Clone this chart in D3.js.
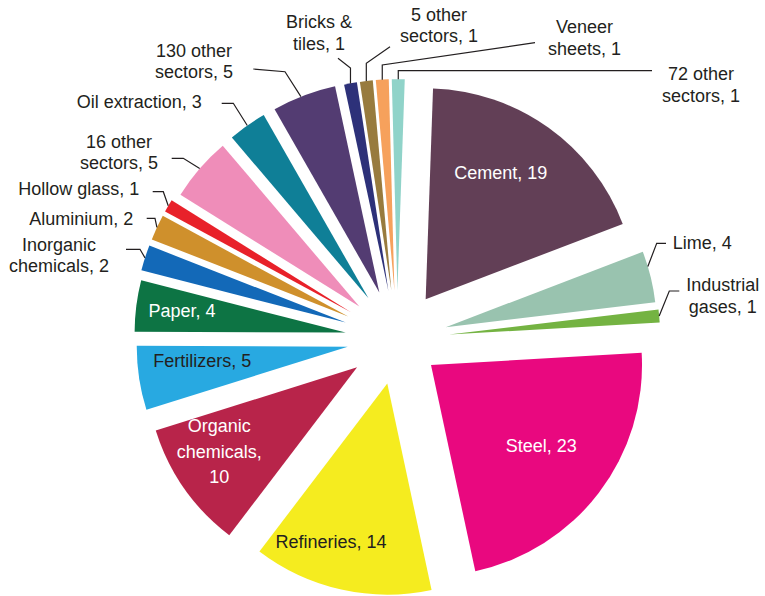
<!DOCTYPE html>
<html>
<head>
<meta charset="utf-8">
<script src="https://cdn.jsdelivr.net/npm/d3@7"></script>
<style>
  body { margin: 0; background: #fff; }
  svg { display: block; }
  text { font-family: "Liberation Sans", Arial, Helvetica, sans-serif; font-size: 18px; }
</style>
</head>
<body>
<svg id="chart" width="765" height="596"></svg>
<script>
// Share of industrial emissions by sector (%)
const sectors = [
  "Cement", "Lime", "Industrial gases", "Steel", "Refineries",
  "Organic chemicals", "Fertilizers", "Paper", "Inorganic chemicals",
  "Aluminium", "Hollow glass", "16 other sectors", "Oil extraction",
  "130 other sectors", "Bricks & tiles", "5 other sectors",
  "Veneer sheets", "72 other sectors"
];
const shares = [19, 4, 1, 23, 14, 10, 5, 4, 2, 2, 1, 5, 3, 5, 1, 1, 1, 1];

// Slice fills, in sector order
const colors = [
  "#623f56", "#99c3af", "#74b342", "#e9087f", "#f5ec1f",
  "#b8244a", "#28a9e1", "#0d7444", "#1369b8",
  "#cf902c", "#e8212a", "#ef8db9", "#0f7f97",
  "#533c72", "#2d3179", "#987b3e",
  "#f6a15c", "#90d3c9"
];

// Pie geometry
const cx = 397.2, cy = 339.2, radius = 211;
const rotation = 2 * Math.PI / 180;   // first slice starts just past 12 o'clock
// How far each slice is pulled out from the centre
const explode = [49, 50, 52, 42.5, 45.5, 49, 50, 52, 54, 54, 54, 50, 50, 50, 49, 49, 49, 49];

// Label placement: anchor point (first baseline), alignment, word breaks,
// text colour, line height, and for outside labels the leader path.
// "t" is where along the slice's outer arc the leader starts; a point written
// as [null, y] keeps the x of the previous point (vertical segment).
const dark = "#231f20", light = "#ffffff";
const labelLayout = [
  { x: 500.8, y: 179,   anchor: "middle", breaks: [],     fill: light },
  { x: 672.7, y: 249.3, anchor: "start",  breaks: [],     fill: dark, t: 0.3, leader: [[656.7, 243.3], [666, 243.3]] },
  { x: 722.7, y: 290.7, anchor: "middle", breaks: [1],    fill: dark, lh: 22, t: 0.5, leader: [[669.3, 291], [679.3, 291]] },
  { x: 541.2, y: 452.3, anchor: "middle", breaks: [],     fill: light },
  { x: 331,   y: 548.3, anchor: "middle", breaks: [],     fill: dark },
  { x: 219.3, y: 431.7, anchor: "middle", breaks: [1, 2], fill: light, lh: 25.8 },
  { x: 202.2, y: 366.7, anchor: "middle", breaks: [],     fill: dark },
  { x: 182,   y: 317.3, anchor: "middle", breaks: [],     fill: light },
  { x: 59,    y: 251.2, anchor: "middle", breaks: [1],    fill: dark, lh: 21.2, t: 0.5, leader: [[140, 249.3], [126, 249.3]] },
  { x: 133.3, y: 224.5, anchor: "end",    breaks: [],     fill: dark, t: 0.5, leader: [[155, 218.3], [146.7, 218.3]] },
  { x: 139.3, y: 194.8, anchor: "end",    breaks: [],     fill: dark, t: 0.5, leader: [[163.3, 191.7], [152.7, 191.7]] },
  { x: 119,   y: 147.7, anchor: "middle", breaks: [2],    fill: dark, lh: 21.6, t: 0.5, leader: [[183.3, 158.3], [171.7, 158.3]] },
  { x: 201.7, y: 108.2, anchor: "end",    breaks: [],     fill: dark, t: 0.5, leader: [[233.3, 103.3], [221.7, 103.3]] },
  { x: 194,   y: 56.6,  anchor: "middle", breaks: [2],    fill: dark, lh: 21.6, t: 0.45, leader: [[285, 71.7], [253.3, 69]] },
  { x: 319,   y: 28.3,  anchor: "middle", breaks: [2],    fill: dark, lh: 21.2, t: 0.5, leader: [[null, 68], [338, 58.3]] },
  { x: 439,   y: 20.7,  anchor: "middle", breaks: [2],    fill: dark, lh: 21.6, t: 0.5, leader: [[null, 63.3], [390, 46.7]] },
  { x: 584.5, y: 33.3,  anchor: "middle", breaks: [1],    fill: dark, lh: 21.2, t: 0.5, leader: [[null, 65], [535, 42.7]] },
  { x: 701,   y: 80,    anchor: "middle", breaks: [2],    fill: dark, lh: 21.7, t: 0.5, leader: [[null, 70.7], [652, 70.7]] }
];

const data = sectors.map((name, i) => ({ name, value: shares[i], color: colors[i], pull: explode[i], layout: labelLayout[i] }));

const pie = d3.pie().value(d => d.value).sort(null)
  .startAngle(rotation).endAngle(2 * Math.PI + rotation);
const arc = d3.arc().innerRadius(0).outerRadius(radius);
const arcs = pie(data);

const svg = d3.select("#chart");
const root = svg.append("g").attr("transform", `translate(${cx},${cy})`);

// Offset of a slice along its bisector
function shift(a) {
  const mid = (a.startAngle + a.endAngle) / 2;
  return [a.data.pull * Math.sin(mid), -a.data.pull * Math.cos(mid)];
}

// Slices
root.selectAll("path.slice")
  .data(arcs)
  .join("path")
  .attr("class", "slice")
  .attr("d", arc)
  .attr("fill", d => d.data.color)
  .attr("transform", d => { const [dx, dy] = shift(d); return `translate(${dx},${dy})`; });

// Leader lines for the labels placed outside the pie
const line = d3.line();
arcs.filter(d => d.data.layout.leader).forEach(d => {
  const L = d.data.layout;
  const [dx, dy] = shift(d);
  const ang = d.startAngle + L.t * (d.endAngle - d.startAngle);
  const start = [cx + dx + radius * Math.sin(ang), cy + dy - radius * Math.cos(ang)];
  const pts = [start];
  L.leader.forEach(p => {
    const prev = pts[pts.length - 1];
    pts.push([p[0] === null ? prev[0] : p[0], p[1]]);
  });
  svg.append("path")
    .attr("d", line(pts))
    .attr("fill", "none")
    .attr("stroke", "#231f20")
    .attr("stroke-width", 1.2);
});

// Labels: "<sector>, <share>", broken over lines where the layout says
arcs.forEach(d => {
  const L = d.data.layout;
  const words = `${d.data.name}, ${d.data.value}`.split(" ");
  const lines = [];
  let from = 0;
  [...L.breaks, words.length].forEach(b => { lines.push(words.slice(from, b).join(" ")); from = b; });
  const t = svg.append("text")
    .attr("x", L.x).attr("y", L.y)
    .attr("text-anchor", L.anchor)
    .attr("fill", L.fill);
  lines.forEach((s, k) => {
    t.append("tspan").attr("x", L.x).attr("dy", k === 0 ? 0 : (L.lh || 21.6)).text(s);
  });
});
</script>
</body>
</html>
